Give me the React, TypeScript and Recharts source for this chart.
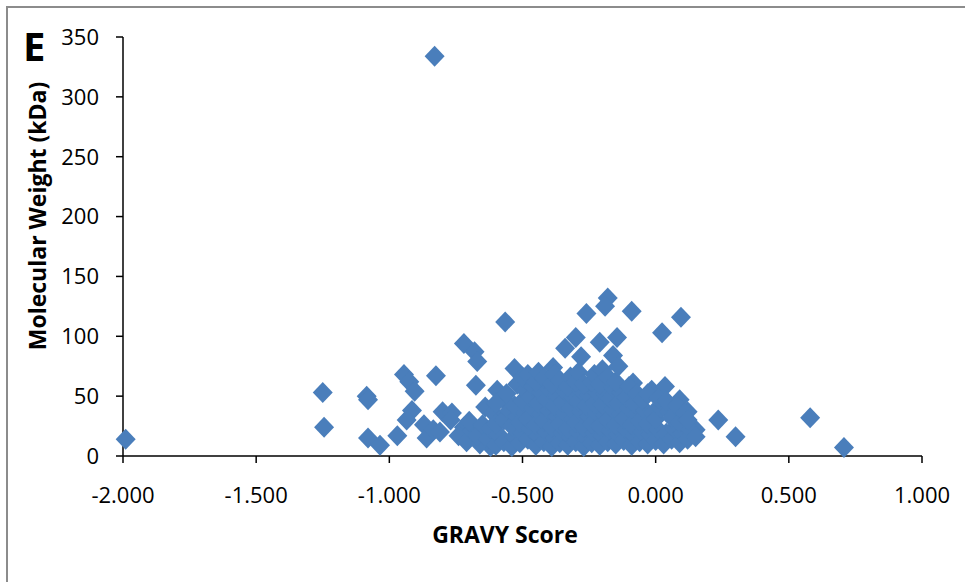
import React from "react";
import { ScatterChart, Scatter, XAxis, YAxis, Label } from "recharts";

const xTicks = [-2, -1.5, -1, -0.5, 0, 0.5, 1];
const yTicks = [0, 50, 100, 150, 200, 250, 300, 350];

const sparsePoints: [number, number][] = [
  [-1.99, 14], [-1.25, 53], [-1.245, 24], [-1.085, 50], [-1.08, 47], [-1.08, 15], [-1.035, 9],
  [-0.97, 17], [-0.945, 68], [-0.925, 62], [-0.905, 54], [-0.915, 38], [-0.935, 30],
  [-0.87, 26], [-0.86, 15], [-0.835, 22], [-0.81, 20], [-0.825, 67], [-0.83, 334],
  [-0.8, 37], [-0.765, 36], [-0.72, 94], [-0.68, 87], [-0.67, 79], [-0.675, 59],
  [-0.72, 24], [-0.74, 17], [-0.77, 30], [-0.595, 55], [-0.57, 47], [-0.565, 112],
  [-0.53, 73], [-0.385, 74], [-0.34, 90], [-0.3, 99], [-0.28, 83], [-0.26, 119],
  [-0.18, 132], [-0.19, 125], [-0.09, 121], [-0.21, 95], [-0.145, 99], [-0.16, 84],
  [0.024, 103], [0.095, 116], [-0.085, 61], [-0.015, 55], [0.035, 58], [0.09, 47],
  [0.12, 37], [0.235, 30], [0.3, 16], [0.15, 22], [0.58, 32], [0.707, 7], [-0.62, 8],
];

const clusterLeft: [number, number][] = [
  [-0.71, 12], [-0.69, 21], [-0.7, 29],
  [-0.66, 10], [-0.67, 17], [-0.65, 26], [-0.64, 41],
  [-0.63, 14], [-0.62, 23], [-0.61, 36],
  [-0.6, 9], [-0.59, 18], [-0.6, 27], [-0.6, 44],
  [-0.57, 12], [-0.57, 30], [-0.55, 38], [-0.56, 52],
  [-0.54, 8], [-0.53, 16], [-0.54, 25], [-0.52, 33], [-0.53, 42], [-0.52, 60],
  [-0.51, 11], [-0.5, 19], [-0.51, 28], [-0.49, 36], [-0.5, 46], [-0.49, 55], [-0.5, 66],
  [-0.48, 14], [-0.47, 23], [-0.48, 31], [-0.46, 40], [-0.47, 49], [-0.46, 58], [-0.48, 68],
  [-0.45, 9], [-0.44, 17], [-0.45, 26], [-0.43, 35], [-0.44, 44], [-0.43, 53], [-0.45, 62], [-0.44, 70],
  [-0.42, 12], [-0.41, 20], [-0.42, 29], [-0.4, 38], [-0.41, 47], [-0.4, 56], [-0.42, 65],
  [-0.39, 8], [-0.38, 15], [-0.39, 24], [-0.37, 33], [-0.38, 42], [-0.37, 51], [-0.39, 60], [-0.38, 68],
];

const clusterMiddle: [number, number][] = [
  [-0.36, 11], [-0.35, 19], [-0.36, 27], [-0.34, 36], [-0.35, 45], [-0.34, 54], [-0.36, 63],
  [-0.33, 9], [-0.32, 16], [-0.33, 23], [-0.31, 31], [-0.32, 40], [-0.31, 49], [-0.33, 58], [-0.32, 66],
  [-0.3, 12], [-0.29, 20], [-0.3, 28], [-0.28, 37], [-0.29, 46], [-0.28, 55], [-0.3, 62], [-0.29, 70],
  [-0.27, 8], [-0.26, 15], [-0.27, 24], [-0.25, 33], [-0.26, 42], [-0.25, 51], [-0.27, 60],
  [-0.24, 11], [-0.23, 19], [-0.24, 27], [-0.22, 36], [-0.23, 44], [-0.22, 53], [-0.24, 62], [-0.23, 68],
  [-0.21, 9], [-0.2, 17], [-0.21, 25], [-0.19, 34], [-0.2, 43], [-0.19, 52], [-0.21, 60], [-0.2, 72],
  [-0.18, 12], [-0.17, 21], [-0.18, 30], [-0.16, 39], [-0.17, 48], [-0.16, 57], [-0.18, 66],
];

const clusterRight: [number, number][] = [
  [-0.15, 10], [-0.14, 18], [-0.15, 26], [-0.13, 35], [-0.14, 44], [-0.13, 53], [-0.15, 62], [-0.14, 75],
  [-0.12, 13], [-0.11, 22], [-0.12, 31], [-0.1, 40], [-0.11, 49], [-0.1, 58],
  [-0.09, 9], [-0.08, 17], [-0.09, 26], [-0.07, 35], [-0.08, 44], [-0.07, 52],
  [-0.06, 12], [-0.05, 20], [-0.06, 29], [-0.04, 38], [-0.05, 47],
  [-0.03, 10], [-0.02, 18], [-0.03, 27], [-0.01, 36], [-0.03, 52],
  [0.0, 13], [0.01, 22], [0.0, 31], [0.02, 40], [0.01, 48],
  [0.03, 10], [0.04, 19], [0.05, 37], [0.04, 46],
  [0.06, 14], [0.07, 23], [0.06, 32], [0.08, 42],
  [0.09, 11], [0.1, 19], [0.09, 28], [0.11, 36],
  [0.12, 14], [0.13, 22], [0.12, 30],
  [0.15, 16],
];

const data = [...sparsePoints, ...clusterLeft, ...clusterMiddle, ...clusterRight].map(
  ([x, y]) => ({ x, y })
);

const FONT = "'Open Sans', 'Liberation Sans', sans-serif";
const BLUE = "#4A7EBB";

const Diamond = (props: any) => {
  const { cx, cy } = props;
  if (cx == null || cy == null) return null;
  const rx = 10;
  const ry = 10.5;
  return (
    <polygon
      points={`${cx},${cy - ry} ${cx + rx},${cy} ${cx},${cy + ry} ${cx - rx},${cy}`}
      fill={BLUE}
    />
  );
};

export default function App() {
  return (
    <div style={{ position: "absolute", left: 0, top: 0, width: 965, height: 582, overflow: "hidden", background: "#fff" }}>
      <div
        style={{
          position: "absolute",
          left: 6,
          top: 6,
          width: 2000,
          height: 2000,
          border: "2px solid #8c8c8c",
        }}
      />
      <div
        style={{
          position: "absolute",
          left: 23,
          top: 22,
          fontFamily: FONT,
          fontWeight: 700,
          fontSize: 40,
          lineHeight: "48px",
          color: "#000",
        }}
      >
        E
      </div>
      <div style={{ position: "absolute", left: 0, top: 0 }}>
        <ScatterChart width={965} height={582} margin={{ top: 37, right: 43, bottom: 46, left: 63 }}>
          <XAxis
            type="number"
            dataKey="x"
            domain={[-2, 1]}
            ticks={xTicks}
            tickFormatter={(v: number) => v.toFixed(3)}
            axisLine={{ stroke: "#000", strokeWidth: 1.5 }}
            tickLine={{ stroke: "#000", strokeWidth: 1.5 }}
            tickSize={7}
            tickMargin={24}
            height={80}
            tick={{ fill: "#000", fontSize: 22, fontFamily: FONT }}
          >
            <Label
              content={() => (
                <text x={505} y={543} textAnchor="middle" fontFamily={FONT} fontWeight={700} fontSize={23} fill="#000">
                  GRAVY Score
                </text>
              )}
            />
          </XAxis>
          <YAxis
            type="number"
            dataKey="y"
            domain={[0, 350]}
            ticks={yTicks}
            axisLine={{ stroke: "#000", strokeWidth: 1.5 }}
            tickLine={{ stroke: "#000", strokeWidth: 1.5 }}
            tickSize={7}
            tickMargin={17}
            width={60}
            tick={{ fill: "#000", fontSize: 22, fontFamily: FONT }}
          >
            <Label
              content={() => (
                <text
                  x={46}
                  y={216}
                  transform="rotate(-90 46 216)"
                  textAnchor="middle"
                  fontFamily={FONT}
                  fontWeight={700}
                  fontSize={23}
                  fill="#000"
                >
                  Molecular Weight (kDa)
                </text>
              )}
            />
          </YAxis>
          <Scatter data={data} fill={BLUE} shape={Diamond} isAnimationActive={false} />
        </ScatterChart>
      </div>
    </div>
  );
}
